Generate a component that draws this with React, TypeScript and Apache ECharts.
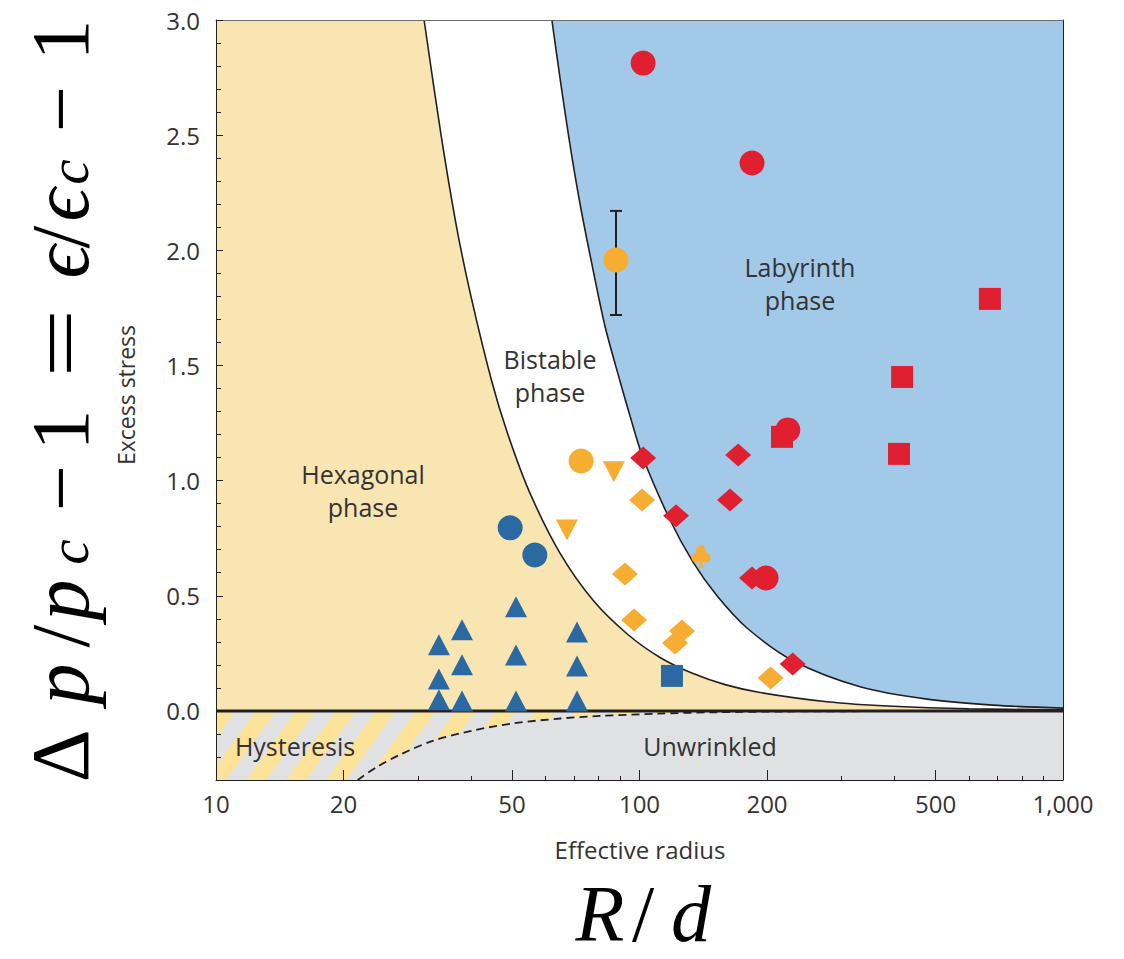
import React, { useEffect, useRef } from "react";
import * as echarts from "echarts";

// ---------- axis ranges & ticks ----------
const X_MIN = 10;
const X_MAX = 1000;
const Y_MIN = -0.3;
const Y_MAX = 3.0;
const xLabelTicks = [10, 20, 50, 100, 200, 500, 1000];
const xMinorTicks = [30, 40, 60, 70, 80, 90, 300, 400, 600, 700, 800, 900];
const yLabelTicks = [0, 0.5, 1.0, 1.5, 2.0, 2.5, 3.0];
const yMinorTicks = [-0.2, -0.1, 0.1, 0.2, 0.3, 0.4, 0.6, 0.7, 0.8, 0.9, 1.1, 1.2, 1.3, 1.4, 1.6, 1.7, 1.8, 1.9, 2.1, 2.2, 2.3, 2.4, 2.6, 2.7, 2.8, 2.9];

// ---------- phase boundaries (R/d, excess stress) ----------
const hexagonalBoundary = [
  [31.0, 3.0], [34.0, 2.5], [37.0, 2.1], [40.0, 1.8], [44.8, 1.43], [48.7, 1.21],
  [55.0, 0.95], [64.9, 0.685], [77.7, 0.48], [93.4, 0.335], [111.8, 0.232],
  [133.8, 0.162], [160, 0.113], [192.5, 0.08], [277, 0.04], [397, 0.02],
  [600, 0.009], [1000, 0.005],
];
const labyrinthBoundary = [
  [62.1, 3.0], [65.0, 2.74], [68.5, 2.46], [72.4, 2.2], [77.0, 1.95], [82.9, 1.67],
  [90.0, 1.43], [95.0, 1.28], [101.9, 1.1], [118, 0.83], [133.8, 0.646],
  [152.4, 0.5], [179.4, 0.36], [230.4, 0.218], [331.7, 0.105], [477.5, 0.051],
  [683, 0.025], [1000, 0.012],
];
const unwrinkledBoundary = [
  [21.6, -0.3], [24.0, -0.243], [27.2, -0.19], [32.5, -0.13], [40.4, -0.085],
  [50.3, -0.054], [65, -0.033], [80.7, -0.022], [110, -0.012], [150, -0.006],
  [250, -0.002], [1000, -0.0002],
];

// ---------- measurements ----------
const redCircles = [[102, 2.813], [184.4, 2.379], [224, 1.22], [199, 0.577]];
const redSquares = [[672, 1.789], [417, 1.45], [410, 1.116], [217, 1.19]];
const redDiamonds = [[102, 1.098], [171, 1.111], [163.6, 0.916], [122, 0.847], [184.4, 0.577], [230, 0.204]];
const orangeCircles = [[88, 1.958], [72.8, 1.085]];
const orangeErrorBars = [[88, 1.719, 2.171]];
const orangeDownTriangles = [[87, 1.038], [67.4, 0.786]];
const orangeDiamonds = [[101.4, 0.916], [92.4, 0.595], [97.1, 0.395], [126, 0.347], [121.3, 0.295], [204, 0.143]];
const orangeClubs = [[139.7, 0.669]];
const blueCircles = [[49.5, 0.795], [56.6, 0.677]];
const blueSquares = [[119.3, 0.152]];
const blueTriangles = [
  [33.6, 0.287], [33.6, 0.139], [33.6, 0.048],
  [38.1, 0.352], [38.1, 0.2], [38.1, 0.043],
  [51.1, 0.452], [51.1, 0.243], [51.1, 0.043],
  [71.2, 0.343], [71.2, 0.195], [71.2, 0.043],
];

// ---------- colours ----------
const HEX_BG = "#f9e5b2";
const BLUE_BG = "#a3c9e9";
const GRAY_BG = "#e0e1e3";
const STRIPE = "#fde29a";
const RED = "#e01f30";
const ORANGE = "#f7ac32";
const BLUE = "#2a69a2";
const INK = "#231f20";
const TEXT = "#333333";

const SANS = "'Open Sans', 'Noto Sans', sans-serif";
const SERIF = "'Liberation Serif', 'DejaVu Serif', serif";

const CLUB =
  "path://M5,5a5,5 0 1,0 10,0a5,5 0 1,0 -10,0Z M0,12.5a5,5 0 1,0 10,0a5,5 0 1,0 -10,0Z M10,12.5a5,5 0 1,0 10,0a5,5 0 1,0 -10,0Z M8,7L8,15L12,15L12,7Z M9.2,13L8,23L12,23L10.8,13Z";

function scatter(name: string, data: number[][], symbol: string, size: any, color: string, rotate = 0) {
  return {
    name,
    type: "scatter",
    data,
    symbol,
    symbolSize: size,
    symbolRotate: rotate,
    itemStyle: { color, opacity: 1 },
    z: 7,
    silent: true,
  };
}

function boundary(name: string, data: number[][], fill: string, z: number) {
  return {
    name,
    type: "line",
    data,
    smooth: 0.3,
    showSymbol: false,
    symbol: "none",
    lineStyle: { color: INK, width: 1.6 },
    areaStyle: { color: fill, opacity: 1, origin: "end" },
    z,
    silent: true,
  };
}

// formula glyphs along the rotated y-label: [text, centre y on screen, italic, sub]
const formulaGlyphs: [string, number, boolean, boolean][] = [
  ["Δ", 756, false, false],
  ["p", 684, true, false],
  ["/", 636, false, false],
  ["p", 600, true, false],
  ["c", 552, true, true],
  ["−", 488, false, false],
  ["1", 430, false, false],
  ["=", 343, false, false],
  ["ϵ", 262, true, false],
  ["/", 237, false, false],
  ["ϵ", 205, true, false],
  ["c", 172, true, true],
  ["−", 109, false, false],
  ["1", 40, false, false],
];

function buildOption() {
  const FS = 82;
  const formulaChildren = formulaGlyphs.map(([t, cy, it, sub]) => {
    const fs = sub ? 57 : FS;
    return {
      type: "text",
      x: 800 - cy,
      y: (sub ? 1 : 0) - 0.3 * fs,
      scaleX: t === "=" ? 1.5 : 1,
      style: {
        text: t,
        fontSize: fs,
        fontFamily: SERIF,
        fontStyle: it ? "italic" : "normal",
        fill: "#000",
        align: "center",
        verticalAlign: "middle",
        textAlign: "center",
        textVerticalAlign: "middle",
      },
    };
  });

  const label = (text: string, x: number, y: number, size = 25, extra: any = {}) => ({
    type: "text",
    x,
    y,
    z: 100,
    silent: true,
    ...extra,
    style: {
      text,
      fontSize: size,
      fontFamily: SANS,
      fill: TEXT,
      lineHeight: 33,
      align: "center",
      verticalAlign: "middle",
      textAlign: "center",
      textVerticalAlign: "middle",
    },
  });

  const axisCommon = { z: 10, silent: true };

  return {
    animation: false,
    backgroundColor: "#ffffff",
    grid: { left: 216, right: 61, top: 20, bottom: 179, containLabel: false },
    xAxis: [
      {
        ...axisCommon,
        type: "log",
        logBase: 10,
        min: X_MIN,
        max: X_MAX,
        position: "bottom",
        axisLine: { show: true, onZero: false, lineStyle: { color: INK, width: 1 } },
        axisTick: { show: true, inside: true, length: 10, customValues: xLabelTicks, lineStyle: { color: INK, width: 1 } },
        axisLabel: {
          show: true,
          customValues: xLabelTicks,
          margin: 11,
          color: TEXT,
          fontSize: 24,
          fontFamily: SANS,
          formatter: (v: number) => {
            const r = Math.round(v);
            return r >= 1000 ? r.toLocaleString("en-US") : String(r);
          },
        },
        splitLine: { show: false },
      },
      {
        ...axisCommon,
        type: "log",
        logBase: 10,
        min: X_MIN,
        max: X_MAX,
        position: "bottom",
        axisLine: { show: false, onZero: false },
        axisTick: { show: true, inside: true, length: 4, customValues: xMinorTicks, lineStyle: { color: INK, width: 1 } },
        axisLabel: { show: false },
        splitLine: { show: false },
      },
      {
        ...axisCommon,
        type: "log",
        logBase: 10,
        min: X_MIN,
        max: X_MAX,
        position: "top",
        axisLine: { show: true, onZero: false, lineStyle: { color: "#6d6e70", width: 1 } },
        axisTick: { show: false },
        axisLabel: { show: false },
        splitLine: { show: false },
      },
    ],
    yAxis: [
      {
        ...axisCommon,
        type: "value",
        min: Y_MIN,
        max: Y_MAX,
        position: "left",
        axisLine: { show: true, onZero: false, lineStyle: { color: INK, width: 1 } },
        axisTick: { show: true, inside: true, length: 7, customValues: yLabelTicks, lineStyle: { color: INK, width: 1 } },
        axisLabel: {
          show: true,
          customValues: yLabelTicks,
          margin: 16,
          color: TEXT,
          fontSize: 24,
          fontFamily: SANS,
          formatter: (v: number) => Number(v).toFixed(1),
        },
        splitLine: { show: false },
      },
      {
        ...axisCommon,
        type: "value",
        min: Y_MIN,
        max: Y_MAX,
        position: "left",
        axisLine: { show: false, onZero: false },
        axisTick: { show: true, inside: true, length: 5, customValues: yMinorTicks, lineStyle: { color: INK, width: 1 } },
        axisLabel: { show: false },
        splitLine: { show: false },
      },
      {
        ...axisCommon,
        type: "value",
        min: Y_MIN,
        max: Y_MAX,
        position: "right",
        axisLine: { show: true, onZero: false, lineStyle: { color: INK, width: 1 } },
        axisTick: { show: false },
        axisLabel: { show: false },
        splitLine: { show: false },
      },
    ],
    series: [
      {
        name: "background",
        type: "custom",
        z: 1,
        silent: true,
        clip: true,
        data: [[X_MIN, 0]],
        renderItem: (params: any, api: any) => {
          const a = api.coord([X_MIN, Y_MAX]);
          const b = api.coord([X_MAX, 0]);
          const c = api.coord([X_MAX, Y_MIN]);
          const h = c[1] - b[1];
          const dx = h * 0.72;
          const period = 40;
          const w = 20;
          const stripes: any[] = [];
          for (let x0 = a[0] - dx - period; x0 < b[0] + period; x0 += period) {
            stripes.push({
              type: "polygon",
              shape: { points: [[x0, c[1]], [x0 + w, c[1]], [x0 + w + dx, b[1]], [x0 + dx, b[1]]] },
              style: { fill: STRIPE },
            });
          }
          return {
            type: "group",
            children: [
              { type: "rect", shape: { x: a[0], y: a[1], width: b[0] - a[0], height: b[1] - a[1] }, style: { fill: HEX_BG } },
              { type: "rect", shape: { x: a[0], y: b[1], width: b[0] - a[0], height: h }, style: { fill: GRAY_BG } },
              ...stripes,
            ],
          };
        },
      },
      boundary("Hexagonal / bistable", hexagonalBoundary, "#ffffff", 2),
      boundary("Bistable / labyrinth", labyrinthBoundary, BLUE_BG, 3),
      {
        name: "Unwrinkled boundary",
        type: "line",
        data: unwrinkledBoundary,
        smooth: 0.3,
        showSymbol: false,
        symbol: "none",
        lineStyle: { color: INK, width: 1.8, type: [8, 5] },
        areaStyle: { color: GRAY_BG, opacity: 1, origin: "start" },
        z: 4,
        silent: true,
      },
      {
        name: "zero",
        type: "line",
        data: [[X_MIN, 0], [X_MAX, 0]],
        showSymbol: false,
        symbol: "none",
        lineStyle: { color: INK, width: 3 },
        z: 5,
        silent: true,
      },
      {
        name: "error bar",
        type: "custom",
        z: 6,
        silent: true,
        data: orangeErrorBars,
        encode: { x: 0, y: [1, 2] },
        renderItem: (params: any, api: any) => {
          const x = api.value(0);
          const lo = api.coord([x, api.value(1)]);
          const hi = api.coord([x, api.value(2)]);
          const cap = 6;
          const st = { stroke: INK, lineWidth: 2 };
          return {
            type: "group",
            children: [
              { type: "line", shape: { x1: lo[0], y1: lo[1], x2: hi[0], y2: hi[1] }, style: st },
              { type: "line", shape: { x1: lo[0] - cap, y1: lo[1], x2: lo[0] + cap, y2: lo[1] }, style: st },
              { type: "line", shape: { x1: hi[0] - cap, y1: hi[1], x2: hi[0] + cap, y2: hi[1] }, style: st },
            ],
          };
        },
      },
      scatter("blue triangles", blueTriangles, "triangle", [22, 21], BLUE),
      scatter("blue circles", blueCircles, "circle", 25, BLUE),
      scatter("blue squares", blueSquares, "rect", 22, BLUE),
      scatter("orange circles", orangeCircles, "circle", 25, ORANGE),
      scatter("orange down triangles", orangeDownTriangles, "triangle", [22, 21], ORANGE, 180),
      scatter("orange diamonds", orangeDiamonds, "diamond", [26, 23], ORANGE),
      scatter("orange clubs", orangeClubs, CLUB, [19, 23], ORANGE),
      scatter("red squares", redSquares, "rect", 22, RED),
      scatter("red diamonds", redDiamonds, "diamond", [26, 23], RED),
      scatter("red circles", redCircles, "circle", 25, RED),
    ],
    graphic: [
      label("Labyrinth\nphase", 800, 283),
      label("Bistable\nphase", 550, 375),
      label("Hexagonal\nphase", 363, 490),
      label("Hysteresis", 295, 746),
      label("Unwrinkled", 710, 746),
      label("Excess stress", 126, 395, 23, { rotation: Math.PI / 2 }),
      label("Effective radius", 640, 849, 24),
      {
        type: "group",
        x: 85,
        y: 800,
        rotation: Math.PI / 2,
        z: 100,
        silent: true,
        children: formulaChildren,
      },
      {
        type: "group",
        x: 0,
        y: 0,
        z: 100,
        silent: true,
        children: [
          ["R", 600, true],
          ["/", 643, false],
          ["d", 691, true],
        ].map(([t, cx, it]) => ({
          type: "text",
          x: cx as number,
          y: 914,
          style: {
            text: t as string,
            fontSize: 80,
            fontFamily: SERIF,
            fontStyle: it ? "italic" : "normal",
            fill: "#000",
            align: "center",
            verticalAlign: "middle",
            textAlign: "center",
            textVerticalAlign: "middle",
          },
        })),
      },
    ],
  };
}

export default function App() {
  const ref = useRef<HTMLDivElement>(null);
  useEffect(() => {
    if (!ref.current) return;
    const chart = echarts.init(ref.current, null, { renderer: "svg" });
    chart.setOption(buildOption() as any);
    return () => {
      chart.dispose();
    };
  }, []);
  return (
    <div
      ref={ref}
      style={{ position: "absolute", left: 0, top: 0, width: 1124, height: 959, background: "#fff" }}
    />
  );
}
